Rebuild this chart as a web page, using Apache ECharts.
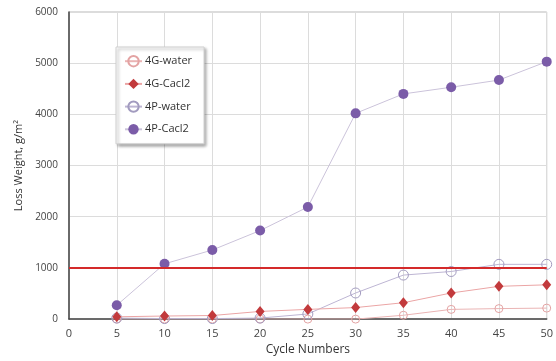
<!DOCTYPE html>
<html>
<head>
<meta charset="utf-8">
<style>
  html, body { margin: 0; padding: 0; background: #fff; }
  #chart { width: 556px; height: 361px; }
</style>
<script src="https://cdn.jsdelivr.net/npm/echarts@6/dist/echarts.min.js"></script>
</head>
<body>
<div id="chart"></div>
<script>
// Loss weight (g/m²) per cycle count for each specimen / solution
const cycles = [5, 10, 15, 20, 25, 30, 35, 40, 45, 50];
const g4Water = [0, 0, 0, 0, 0, 0, 75, 190, 205, 215];
const g4CaCl2 = [45, 60, 70, 150, 190, 225, 320, 510, 640, 670];
const p4Water = [20, 10, 10, 20, 100, 510, 860, 930, 1070, 1070];
const p4CaCl2 = [270, 1080, 1350, 1730, 2190, 4020, 4400, 4530, 4670, 5030];
const seriesNames = ['4G-water', '4G-Cacl2', '4P-water', '4P-Cacl2'];
const limitValue = 1000;
const limitSpan = [0, 50];

const pairs = (ys) => cycles.map((c, i) => [c, ys[i]]);

const chart = echarts.init(document.getElementById('chart'));
const font = '"Open Sans", "Noto Sans", sans-serif';

chart.setOption({
  animation: false,
  textStyle: { fontFamily: font },
  grid: {
    left: 69, right: 9, top: 12, bottom: 37,
    show: true, borderColor: '#b8b8b8', borderWidth: 1
  },
  legend: {
    orient: 'vertical',
    left: 116, top: 47,
    padding: [8, 12, 9, 8],
    itemGap: 11,
    itemWidth: 17, itemHeight: 13,
    backgroundColor: '#fff',
    borderColor: '#d0d0d0', borderWidth: 1,
    shadowColor: 'rgba(0,0,0,0.35)', shadowBlur: 3, shadowOffsetX: 2, shadowOffsetY: 2,
    textStyle: { fontSize: 11, color: '#333', fontFamily: font, padding: [0, 0, 0, -2] },
    data: seriesNames
  },
  xAxis: {
    type: 'value', min: 0, max: 50, interval: 5,
    name: 'Cycle Numbers', nameLocation: 'middle', nameGap: 21,
    nameTextStyle: { fontSize: 12, color: '#333' },
    axisLine: { lineStyle: { color: '#444', width: 1.5 } },
    axisTick: { show: false },
    axisLabel: { fontSize: 11, color: '#444', margin: 9 },
    splitLine: { lineStyle: { color: '#dcdcdc' } }
  },
  yAxis: {
    type: 'value', min: 0, max: 6000, interval: 1000,
    name: 'Loss Weight, g/m²', nameLocation: 'middle', nameGap: 40,
    nameTextStyle: { fontSize: 11, color: '#333' },
    axisLine: { show: true, lineStyle: { color: '#444', width: 1.5 } },
    axisTick: { show: false },
    axisLabel: { fontSize: 10, color: '#444', margin: 11, formatter: (v) => String(v) },
    splitLine: { lineStyle: { color: '#dcdcdc' } }
  },
  series: [
    {
      name: seriesNames[0], type: 'line', data: pairs(g4Water),
      symbol: 'circle', symbolSize: 8,
      itemStyle: { color: 'rgba(255,255,255,0)', borderColor: '#e3a3a3', borderWidth: 1 },
      lineStyle: { color: '#eab4b4', width: 1 }, z: 3
    },
    {
      name: seriesNames[1], type: 'line', data: pairs(g4CaCl2),
      symbol: 'diamond', symbolSize: [9, 11],
      itemStyle: { color: '#c23a3c' },
      lineStyle: { color: '#eba5a5', width: 1 }, z: 4
    },
    {
      name: seriesNames[2], type: 'line', data: pairs(p4Water),
      symbol: 'circle', symbolSize: 10,
      itemStyle: { color: 'rgba(255,255,255,0)', borderColor: '#a29bbf', borderWidth: 1 },
      lineStyle: { color: '#bdb5d3', width: 1 }, z: 3
    },
    {
      name: seriesNames[3], type: 'line', data: pairs(p4CaCl2),
      symbol: 'circle', symbolSize: 10,
      itemStyle: { color: '#7b5ca8' },
      lineStyle: { color: '#cbc3da', width: 1 }, z: 5
    },
    {
      // 1000 g/m² reference level, drawn over the data lines
      name: 'limit', type: 'line', silent: true, symbol: 'none',
      data: limitSpan.map(x => [x, limitValue]),
      lineStyle: { color: '#d42a2a', width: 2 }, z: 6
    }
  ]
});
</script>
</body>
</html>
